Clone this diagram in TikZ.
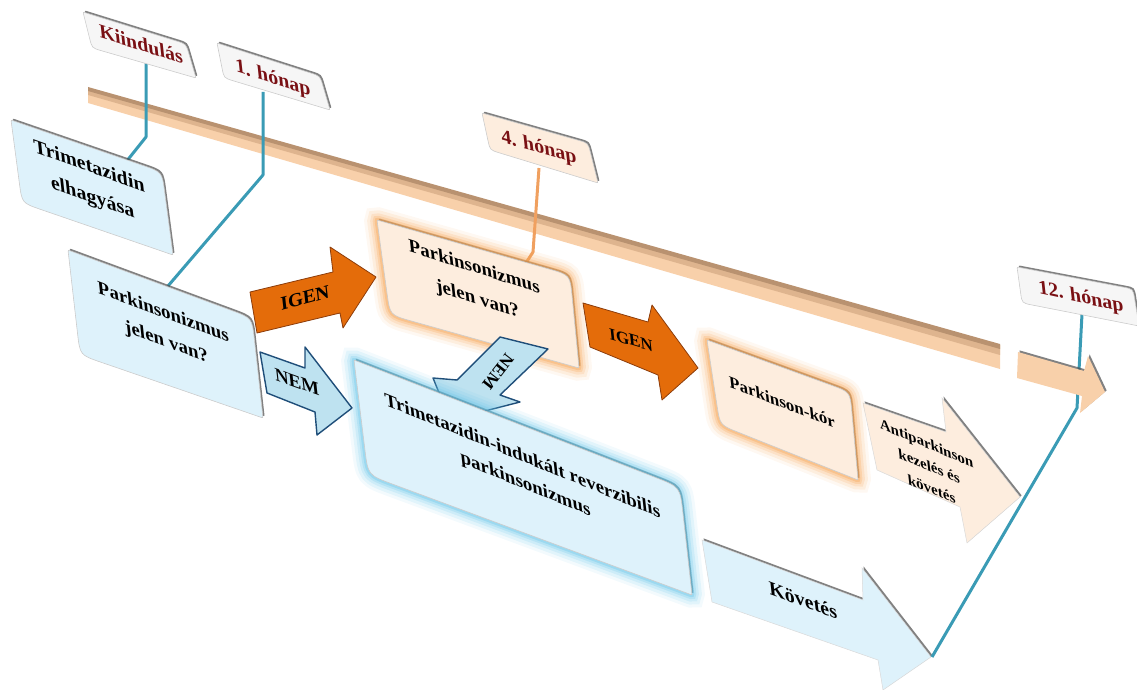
\documentclass[tikz,border=0pt]{standalone}
\usepackage{fontspec}
\setmainfont{Liberation Serif}
\usetikzlibrary{shadows,calc}
\definecolor{boxblue}{RGB}{222,242,251}
\definecolor{glowblue}{RGB}{100,196,232}
\definecolor{peach}{RGB}{253,237,222}
\definecolor{glowor}{RGB}{246,165,85}
\definecolor{igen}{RGB}{228,108,10}
\definecolor{igenedge}{RGB}{140,60,10}
\definecolor{nemfill}{RGB}{190,226,240}
\definecolor{nemedge}{RGB}{31,78,121}
\definecolor{labfill}{RGB}{246,246,246}
\definecolor{labtext}{RGB}{122,16,20}
\definecolor{tealline}{RGB}{58,155,181}
\definecolor{orline}{RGB}{240,160,95}
\definecolor{bandfill}{RGB}{248,208,170}
\definecolor{bandmid}{RGB}{222,180,142}
\definecolor{banddark}{RGB}{185,146,112}
% skewed box: style, TL, TR, BR, BL, big corner radius
\newcommand\skbox[6]{%
  \path[#1] ($#2!3pt!#3$) -- ($#3!#6!#2$) .. controls #3 .. ($#3!#6!#4$)
    -- ($#4!3pt!#3$) .. controls #4 .. ($#4!3pt!#5$)
    -- ($#5!#6!#4$) .. controls #5 .. ($#5!#6!#2$)
    -- ($#2!3pt!#5$) .. controls #2 .. ($#2!3pt!#3$) -- cycle;}
\begin{document}
\begin{tikzpicture}[x=1pt,y=-1pt,
  rim/.style={drop shadow={shadow xshift=1.6pt,shadow yshift=1.6pt,opacity=.7,fill=black!70}},
  glowO/.style={preaction={draw=glowor,line width=26,opacity=.08},
                preaction={draw=glowor,line width=20,opacity=.12},
                preaction={draw=glowor,line width=14,opacity=.17},
                preaction={draw=glowor,line width=9,opacity=.25},
                preaction={draw=glowor,line width=5,opacity=.35}},
  glowB/.style={preaction={draw=glowblue,line width=26,opacity=.08},
                preaction={draw=glowblue,line width=20,opacity=.12},
                preaction={draw=glowblue,line width=14,opacity=.16},
                preaction={draw=glowblue,line width=9,opacity=.22},
                preaction={draw=glowblue,line width=5,opacity=.32}},
  bluebox/.style={fill=boxblue,draw=black!20,line width=.6,rim},
  peachbox/.style={fill=peach,draw=black!20,line width=.6,rim},
  labbox/.style={fill=labfill,draw=black!20,line width=.6,rim},
  igenarrow/.style={fill=igen,draw=igenedge,line width=.8,line join=round},
  nemarrow/.style={fill=nemfill,draw=nemedge,line width=1.4,line join=round},
  lightarrow/.style={draw=black!15,line width=.5,rim},
  conn/.style={draw=tealline,line width=3},
  persp/.style={cm={1,-#1,-0.11,1,(0,0)}},
  txt/.style={font=\bfseries\fontsize{19}{30}\selectfont,align=center,inner sep=0},
  lab/.style={font=\bfseries\fontsize{20}{22}\selectfont,text=labtext,inner sep=0},
  arrtxt/.style={inner sep=0}
]
\useasboundingbox (0,0) rectangle (1137,690);

% timeline band
\fill[bandfill] (88,88) -- (1000,345) -- (1000,369) -- (88,103) -- cycle;
\fill[bandmid] (88,88) -- (1000,345) -- (1000,355) -- (88,95) -- cycle;
\fill[banddark] (88,87) -- (1000,344) -- (1000,349) -- (88,91) -- cycle;

% light arrows
\path[lightarrow,fill=peach] (863,403) -- (946,432) -- (942,398) -- (1020,497) -- (967,543) -- (960,507) -- (877,470) -- cycle;
\path[lightarrow,fill=boxblue] (702,540) -- (863,600) -- (862,568) -- (931,657) -- (883,690) -- (878,660) -- (712,602) -- cycle;

% connector points
\coordinate (kA) at (146,62); \coordinate (kB) at (146,137); \coordinate (kC) at (126,162);
\coordinate (hA) at (263,92); \coordinate (hB) at (263,175); \coordinate (hC) at (168,286);
\coordinate (nA) at (539,168); \coordinate (nB) at (533,252); \coordinate (nC) at (524,266);
\coordinate (tA) at (1082,314); \coordinate (tB) at (1077,408); \coordinate (tC) at (932,657);
\draw[conn,line join=round] (kA) -- (kB) -- (kC);
\draw[conn,line join=round] (hA) -- (hB) -- (hC);
\draw[draw=orline,line width=3,line join=round] (nA) -- (nB) -- (nC);
\draw[conn,line join=round] (tA) -- (tB) -- (tC);

% timeline arrow
\path[fill=bandfill,rim] (1018,352) -- (1084,371) -- (1088,356) -- (1105,392) -- (1080,413) -- (1082,396) -- (1017,378) -- cycle;

% label boxes
\skbox{labbox}{(83,12)}{(186,44)}{(196,78)}{(92,48)}{10pt}
\skbox{labbox}{(217,43)}{(320,76)}{(330,110)}{(224,78)}{10pt}
\skbox{labbox,fill=peach}{(482,113)}{(588,143)}{(598,183)}{(490,150)}{10pt}
\skbox{labbox}{(1017,267)}{(1133,289)}{(1139,326)}{(1022,303)}{10pt}
\node[lab,persp=0.31] (tK) at (141,44) {Kiindulás};
\node[lab,persp=0.32] (t1) at (273,79) {1. hónap};
\node[lab,persp=0.28] (t4) at (539,148) {4. hónap};
\node[lab,persp=0.22] (t12) at (1081,298) {12. hónap};

% boxes
\skbox{bluebox}{(11,120)}{(162,172)}{(173,255)}{(22,203)}{20pt}
\skbox{bluebox}{(68,250)}{(252,318)}{(263,418)}{(80,355)}{22pt}
\skbox{peachbox,glowO}{(377,220)}{(570,275)}{(579,368)}{(390,315)}{22pt}
\skbox{peachbox,glowO}{(707,340)}{(850,392)}{(858,480)}{(720,425)}{20pt}

% NEM arrow 2 (behind big box)
\path[nemarrow] (500,337) -- (548,349) -- (500,395) -- (520,402) -- (450,420) -- (433,378) -- (457,380) -- cycle;
\node[arrtxt,font=\bfseries\fontsize{17}{20}\selectfont,rotate=-128] (nm2) at (498,372) {NEM};

% big box
\skbox{bluebox,glowB}{(354,360)}{(680,487)}{(692,595)}{(368,475)}{26pt}

% IGEN / NEM arrows
\path[igenarrow] (250,292) -- (333,272) -- (330,247) -- (376,277) -- (343,328) -- (340,313) -- (257,333) -- cycle;
\path[nemarrow] (260,352) -- (305,368) -- (305,347) -- (352,408) -- (317,435) -- (315,412) -- (267,393) -- cycle;
\path[igenarrow] (583,303) -- (648,322) -- (652,305) -- (698,368) -- (662,400) -- (658,375) -- (590,347) -- cycle;

% texts
\node[txt,font=\bfseries\fontsize{20}{31}\selectfont,persp=0.36] (tTe) at (91,183) {Trimetazidin\\elhagyása};
\node[txt,font=\bfseries\fontsize{19}{30}\selectfont,persp=0.37] (tP1) at (165,328) {Parkinsonizmus\\jelen van?};
\node[txt,font=\bfseries\fontsize{19}{32}\selectfont,persp=0.32] (tP2) at (476,284) {Parkinsonizmus\\jelen van?};
\node[txt,font=\bfseries\fontsize{19}{28}\selectfont,persp=0.41] (tTr) at (524,471) {Trimetazidin-indukált reverzibilis\\parkinsonizmus};
\node[txt,font=\bfseries\fontsize{17}{20}\selectfont,persp=0.38] (tPk) at (782,402) {Parkinson-kór};
\node[txt,font=\bfseries\fontsize{15}{23}\selectfont,persp=0.42] (tAp) at (929,466) {Antiparkinson\\kezelés és\\követés};
\node[txt,font=\bfseries\fontsize{20}{22}\selectfont,persp=0.37] (tKo) at (803,600) {Követés};
\node[arrtxt,font=\bfseries\fontsize{19}{20}\selectfont,persp=-0.27] (ig1) at (305,298) {IGEN};
\node[arrtxt,font=\bfseries\fontsize{19}{20}\selectfont,persp=0.36] (nm1) at (297,382) {NEM};
\node[arrtxt,font=\bfseries\fontsize{17}{20}\selectfont,persp=0.3] (ig2) at (631,340) {IGEN};
\end{tikzpicture}
\end{document}
